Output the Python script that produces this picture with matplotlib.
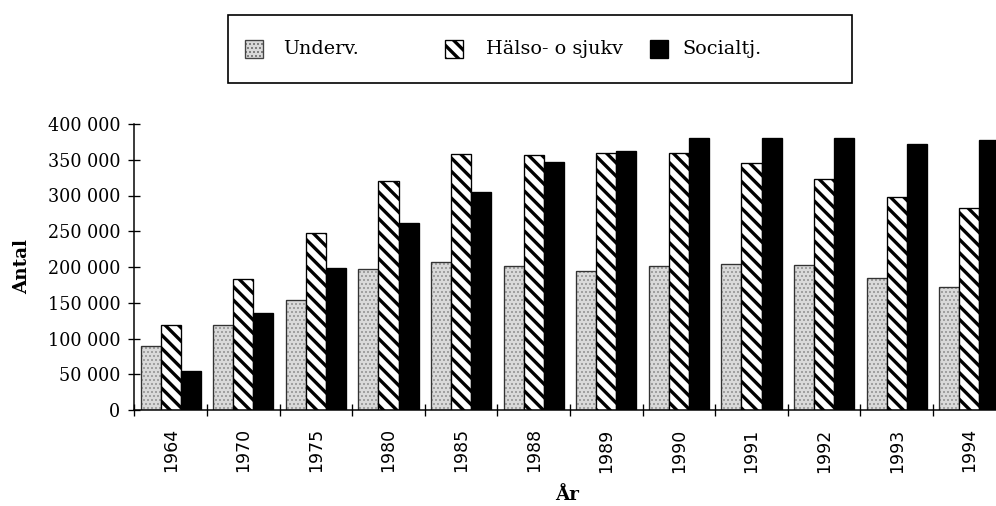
import matplotlib
matplotlib.use("Agg")
import matplotlib.pyplot as plt
import numpy as np
from matplotlib.patches import Rectangle
from matplotlib.ticker import FuncFormatter, FixedLocator

# data
years = ["1964", "1970", "1975", "1980", "1985", "1988",
         "1989", "1990", "1991", "1992", "1993", "1994"]
underv = [89000, 119000, 154000, 197000, 207000, 201000,
          195000, 201000, 204000, 203000, 185000, 172000]
halso = [119000, 183000, 248000, 320000, 358000, 356000,
         360000, 360000, 346000, 323000, 298000, 283000]
social = [55000, 135000, 198000, 261000, 305000, 347000,
          362000, 381000, 381000, 380000, 372000, 378000]
labels = ["Underv.", "Hälso- o sjukv", "Socialtj."]

plt.rcParams["font.family"] = "DejaVu Serif"
plt.rcParams["hatch.linewidth"] = 2.0

W, H = 996, 506
fig = plt.figure(figsize=(W / 120, H / 120), dpi=120)
ax = fig.add_axes([134.4 / W, 96 / H, 871.2 / W, 286 / H])

x = np.arange(len(years))
w = 0.2755
stripes = "\\\\\\"
stipple = "#d9d9d9"

# stippled bars: light grey with fine dots
with plt.rc_context({"hatch.linewidth": 0.5}):
    b1 = ax.bar(x - w, underv, w, facecolor=stipple, edgecolor="#7a7a7a",
                hatch=".....", linewidth=0)
ax.bar(x - w, underv, w, fill=False, edgecolor="#333333", linewidth=0.8)
b2 = ax.bar(x, halso, w, facecolor="white", edgecolor="black",
            hatch=stripes, linewidth=0.8)
b3 = ax.bar(x + w, social, w, color="black", edgecolor="black", linewidth=0.8)

ax.set_xlim(-0.5, len(years) - 0.5)
ax.set_ylim(0, 400000)
ax.set_yticks(np.arange(0, 400001, 50000))
ax.yaxis.set_major_formatter(FuncFormatter(lambda v, p: f"{int(v):,}".replace(",", " ")))
ax.tick_params(axis="y", direction="inout", length=7, width=0.8, labelsize=10.5, pad=5)

ax.set_xticks(x)
ax.set_xticklabels(years, rotation=90, family="DejaVu Sans", fontsize=10.4)
ax.xaxis.set_minor_locator(FixedLocator(np.arange(-0.5, len(years), 1.0)))
ax.tick_params(axis="x", which="major", length=0, pad=11)
ax.tick_params(axis="x", which="minor", direction="inout", length=7, width=0.8)

for s in ["top", "right"]:
    ax.spines[s].set_visible(False)
for s in ["left", "bottom"]:
    ax.spines[s].set_linewidth(0.9)

ax.set_ylabel("Antal", fontsize=11, fontweight="bold")
ax.yaxis.set_label_coords(-(134.4 - 31) / 871.2, 0.5)
ax.set_xlabel("År", fontsize=11, fontweight="bold")
ax.xaxis.set_label_coords((567 - 134.4) / 871.2, -(486 - 410) / 286)

# legend box drawn like the original (fixed-width columns)
def fx(px):
    return px / W

def fy(py):
    return 1 - py / H

fig.add_artist(Rectangle((fx(228), fy(83)), fx(852) - fx(228), fy(15) - fy(83),
                         transform=fig.transFigure, fill=False,
                         edgecolor="black", linewidth=1.0))
handle_x = [245, 445, 650]
text_x = [283, 486, 682]
styles = [dict(facecolor=stipple, edgecolor="#444444", hatch="....."),
          dict(facecolor="white", edgecolor="black", hatch=stripes),
          dict(facecolor="black", edgecolor="black")]
for hx, tx, lab, st in zip(handle_x, text_x, labels, styles):
    lw = 2.0 if st.get("hatch") == stripes else 0.5
    with plt.rc_context({"hatch.linewidth": lw}):
        fig.add_artist(Rectangle((fx(hx), fy(58)), fx(18), fy(40) - fy(58),
                                 transform=fig.transFigure, linewidth=0.8, **st))
    fig.text(fx(tx), fy(49), lab, fontsize=11.5, va="center", ha="left")

fig.savefig("out.png", dpi=120)
